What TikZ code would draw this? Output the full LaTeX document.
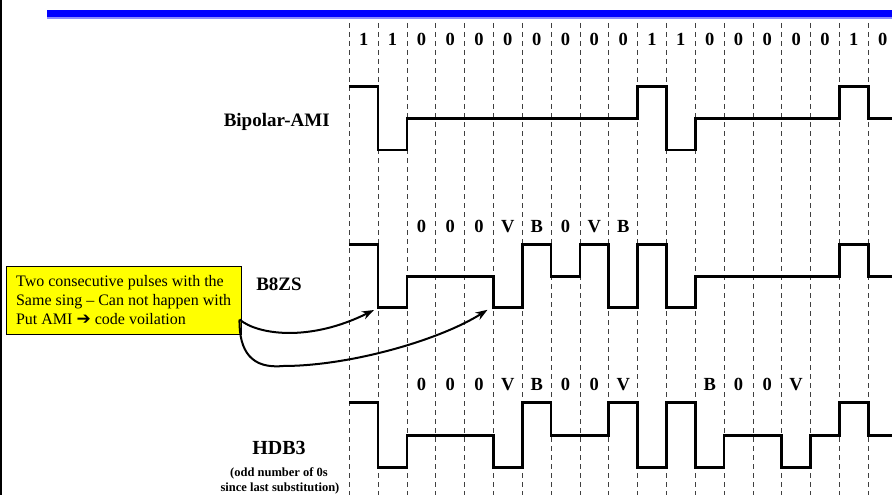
\documentclass[tikz,border=0pt]{standalone}
\usepackage{fontspec}
\setmainfont{Liberation Serif}
\newfontfamily\dingfont{DejaVu Sans}
\usetikzlibrary{arrows.meta}
\definecolor{barblue}{RGB}{0,0,255}
\definecolor{barlight}{RGB}{140,140,255}
\definecolor{callyellow}{RGB}{255,255,0}
\begin{document}
\begin{tikzpicture}[x=1pt,y=-1pt,
  wave/.style={line width=2.6pt, black, line join=miter},
  gridline/.style={dash pattern=on 5pt off 4pt, line width=0.8pt, black!75},
  bitlbl/.style={font=\fontsize{18.5}{20}\selectfont\bfseries, anchor=base, inner sep=0pt},
  rowlbl/.style={font=\fontsize{19}{22}\selectfont\bfseries, anchor=base, inner sep=0pt},
  sublbl/.style={font=\fontsize{12.5}{14}\selectfont\bfseries, anchor=base, inner sep=0pt},
  callout/.style={draw=black, line width=0.8pt, fill=callyellow, anchor=north west,
    minimum width=235pt, minimum height=68.3pt, inner xsep=10pt, align=left,
    font=\fontsize{16}{19}\selectfont},
  pointer/.style={line width=2pt, -{Stealth[length=12pt,width=8.5pt]}}]

\useasboundingbox (0,0) rectangle (892,495);
\fill[white] (0,0) rectangle (892,495);
\fill[black] (0,0) rectangle (1.5,495);
\fill[barblue] (47,10) rectangle (892,17.5);
\fill[barlight] (47,17.5) rectangle (892,18.7);

\begin{scope}[shift={(349.3,0)}, xscale=28.83]
  \foreach \k in {0,...,18} \draw[gridline] (\k,23) -- (\k,495);

  \foreach \b [count=\i from 0] in {1,1,0,0,0,0,0,0,0,0,1,1,0,0,0,0,0,1,0}
    \node[bitlbl] (bit\i) at (\i+0.5,46) {\b};

  \foreach \b [count=\i from 2] in {0,0,0,V,B,0,V,B}
    \node[bitlbl] (bz\i) at (\i+0.5,232.3) {\b};

  \foreach \b [count=\i from 2] in {0,0,0,V,B,0,0,V}
    \node[bitlbl] (hda\i) at (\i+0.5,390) {\b};
  \foreach \b [count=\i from 12] in {B,0,0,V}
    \node[bitlbl] (hdb\i) at (\i+0.5,390) {\b};

  % Bipolar-AMI
  \draw[wave] (0,86.7) -| (1,150) -| (2,118.3) -| (10,86.7) -| (11,150) -| (12,118.3)
    -| (17,86.7) -| (18,118.3) -- (18.82,118.3);
  % B8ZS
  \draw[wave] (0,244.3) -| (1,307.7) -| (2,276.7) -| (5,307.7) -| (6,244.3) -| (7,276.7)
    -| (8,244.3) -| (9,307.7) -| (10,244.3) -| (11,307.7) -| (12,276.7) -| (17,244.3)
    -| (18,276.7) -- (18.82,276.7);
  % HDB3
  \draw[wave] (0,402.7) -| (1,467.3) -| (2,435.3) -| (5,467.3) -| (6,402.7) -| (7,435.3)
    -| (9,402.7) -| (10,467.3) -| (11,402.7) -| (12,467.3) -| (13,435.3) -| (15,467.3)
    -| (16,435.3) -| (17,402.7) -| (18,435.3) -- (18.82,435.3);
\end{scope}

\node[rowlbl] (ami) at (276.7,126) {Bipolar-AMI};
\node[rowlbl] (b8zs) at (279,290.7) {B8ZS};
\node[rowlbl, font=\fontsize{20}{22}\selectfont\bfseries] (hdb3) at (279,454) {HDB3};
\node[sublbl] (hdbsub1) at (279,476) {(odd number of 0s};
\node[sublbl] (hdbsub2) at (280,491.5) {since last substitution)};

\node[callout] (callout) at (5.7,265.7)
  {Two consecutive pulses with the\\Same sing -- Can not happen with\\Put AMI {\dingfont\fontsize{17}{19}\selectfont ➔} code voilation};

\coordinate (src) at (239.5,319.5);
\coordinate (t1) at (374,310);
\coordinate (t2) at (487.5,309.8);
\draw[pointer] (src) .. controls (258,335) and (310,342) .. (t1);
\draw[pointer] (src) .. controls (239,352) and (252,369) .. (283,366)
  .. controls (350,366) and (440,340) .. (t2);
\end{tikzpicture}
\end{document}
